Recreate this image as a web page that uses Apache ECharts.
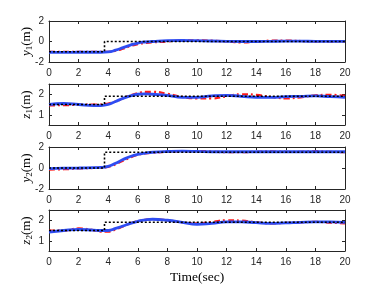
<!DOCTYPE html>
<html><head><meta charset="utf-8">
<script src="https://cdn.jsdelivr.net/npm/echarts@6/dist/echarts.min.js"></script>
<style>html,body{margin:0;padding:0;background:#fff}#c{width:382px;height:287px}</style>
</head><body><div id="c"></div>
<script>
const T = [0,1,2,3,3.5,4,4.5,5,5.5,6,6.5,7,8,9,10,11,12,13,14,15,16,17,18,19,20];
const y1Blue = [-1.05,-1.07,-1.05,-1.05,-1.05,-1.02,-0.85,-0.6,-0.35,-0.15,-0.05,0.0,0.08,0.1,0.08,0.05,0.02,0.0,0.0,0.02,0.03,0.03,0.02,0.02,0.02];
const y1Red  = [-1.0,-1.0,-1.02,-1.02,-1.02,-1.0,-0.9,-0.7,-0.45,-0.25,-0.15,-0.08,0.0,0.1,0.12,0.08,0.0,-0.08,-0.02,0.08,0.08,0.05,0.0,0.02,0.02];
const z1Blue = [1.5,1.55,1.5,1.45,1.45,1.5,1.65,1.8,1.92,2.0,2.02,2.0,1.95,1.85,1.85,1.92,1.95,1.9,1.85,1.85,1.88,1.9,1.92,1.88,1.85];
const z1Red  = [1.45,1.47,1.48,1.5,1.5,1.55,1.65,1.8,1.95,2.05,2.12,2.12,2.02,1.87,1.8,1.8,1.9,2.0,1.97,1.87,1.8,1.85,1.95,1.97,1.92];
const y2Blue = [-0.05,-0.02,0.0,0.03,0.05,0.15,0.45,0.8,1.1,1.3,1.42,1.5,1.57,1.6,1.58,1.55,1.55,1.55,1.55,1.55,1.55,1.55,1.55,1.55,1.55];
const y2Red  = [-0.15,-0.12,-0.05,0.0,0.03,0.1,0.35,0.7,1.0,1.25,1.38,1.45,1.55,1.6,1.62,1.58,1.5,1.5,1.55,1.58,1.55,1.55,1.6,1.55,1.5];
const z2Blue = [1.42,1.5,1.55,1.52,1.5,1.5,1.6,1.72,1.85,1.95,2.02,2.05,2.0,1.9,1.8,1.85,1.92,1.92,1.88,1.85,1.87,1.9,1.92,1.92,1.9];
const z2Red  = [1.5,1.5,1.6,1.52,1.45,1.45,1.55,1.7,1.85,1.95,2.02,2.05,2.0,1.9,1.85,1.92,2.0,1.98,1.9,1.85,1.87,1.9,1.92,1.88,1.85];
const refT = [0,3.75,3.75,20];
const y1Ref = [-1,-1,0,0];
const z1Ref = [1.5,1.5,1.9,1.9];
const y2Ref = [0,0,1.5,1.5];
const z2Ref = [1.5,1.5,1.9,1.9];
const xTicks = [0,2,4,6,8,10,12,14,16,18,20];
const yTicksA = [-2,0,2];
const yTicksB = [1,2];
const names = [['y','1'],['z','1'],['y','2'],['z','2']];

const pair = (xs, ys) => xs.map((x,i)=>[x, ys[i]]);
const panels = [
  {blue:y1Blue, red:y1Red, ref:y1Ref, min:-2, max:2, ticks:yTicksA, top:21, h:41},
  {blue:z1Blue, red:z1Red, ref:z1Ref, min:0.5, max:2.5, ticks:yTicksB, top:84, h:41},
  {blue:y2Blue, red:y2Red, ref:y2Ref, min:-2, max:2, ticks:yTicksA, top:147, h:42},
  {blue:z2Blue, red:z2Red, ref:z2Ref, min:0.5, max:2.5, ticks:yTicksB, top:210, h:41}
];
const axCol = '#262626';
const grid=[], xAxis=[], yAxis=[], series=[];
panels.forEach((p,i)=>{
  grid.push({left:49, top:p.top, width:296, height:p.h});
  const common = {gridIndex:i, type:'value', min:0, max:20,
    axisLine:{show:true, onZero:false, lineStyle:{color:axCol, width:1}},
    axisTick:{show:true, inside:true, length:3, customValues:xTicks, lineStyle:{color:axCol}},
    splitLine:{show:false}};
  xAxis.push(Object.assign({}, common, {position:'bottom',
    axisLabel:{show:true, customValues:xTicks, fontFamily:'Liberation Sans', fontSize:10, color:axCol, margin:6},
    name: i===3 ? 'Time(sec)' : '', nameLocation:'middle', nameGap:19, nameMoveOverlap:false,
    nameTextStyle:{fontFamily:'Liberation Serif', fontSize:13.5, color:'#000'}}));
  xAxis.push(Object.assign({}, common, {position:'top', axisLabel:{show:false}}));
  const yc = {gridIndex:i, type:'value', min:p.min, max:p.max,
    axisLine:{show:true, onZero:false, lineStyle:{color:axCol, width:1}},
    axisTick:{show:true, inside:true, length:3, customValues:p.ticks, lineStyle:{color:axCol}},
    splitLine:{show:false}};
  yAxis.push(Object.assign({}, yc, {position:'left',
    axisLabel:{show:true, customValues:p.ticks, fontFamily:'Liberation Sans', fontSize:10, color:axCol, margin:5},
    name:'{v|'+names[i][0]+'}{s|'+names[i][1]+'}{u|(m)}', nameLocation:'middle', nameGap:15, nameRotate:90,
    nameMoveOverlap:false,
    nameTextStyle:{rich:{
      v:{fontFamily:'Liberation Serif', fontStyle:'italic', fontSize:13, color:'#000'},
      s:{fontFamily:'Liberation Serif', fontSize:9, color:'#000', verticalAlign:'bottom', padding:[6,0,0,0]},
      u:{fontFamily:'Liberation Serif', fontSize:13, color:'#000'}}}}));
  yAxis.push(Object.assign({}, yc, {position:'right', axisLabel:{show:false}}));
  const xi = 2*i, yi = 2*i;
  series.push({type:'line', xAxisIndex:xi, yAxisIndex:yi, data:pair(T,p.red), smooth:0.5, symbol:'none',
    lineStyle:{color:'#ff1a1a', width:2.2, type:[6,3,2,3]}, z:2});
  series.push({type:'line', xAxisIndex:xi, yAxisIndex:yi, data:pair(T,p.blue), smooth:0.5, symbol:'none',
    lineStyle:{color:'#2e4cf2', width:2.8}, z:3});
  series.push({type:'line', xAxisIndex:xi, yAxisIndex:yi, data:pair(refT,p.ref), symbol:'none',
    lineStyle:{color:'#000', width:1.6, type:[2,2]}, z:4});
});
const chart = echarts.init(document.getElementById('c'), null, {renderer:'canvas'});
chart.setOption({backgroundColor:'#fff', animation:false, grid, xAxis, yAxis, series});
</script></body></html>
